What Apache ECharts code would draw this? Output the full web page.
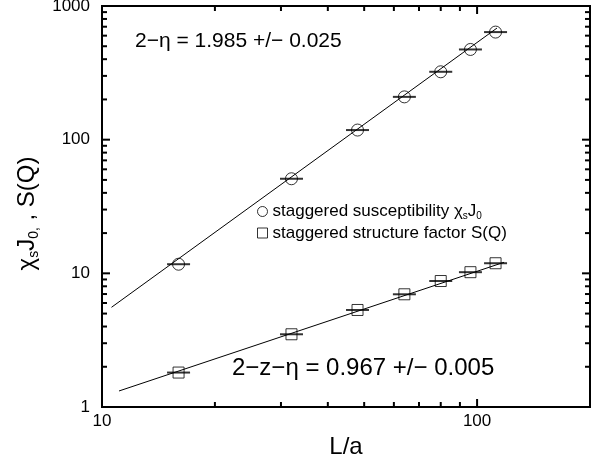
<!DOCTYPE html>
<html>
<head>
<meta charset="utf-8">
<script src="https://cdn.jsdelivr.net/npm/echarts@6/dist/echarts.min.js"></script>
<style>html,body{margin:0;padding:0;background:#fff;}#c{width:595px;height:461px;}</style>
</head>
<body>
<div id="c"></div>
<script>
// ---- data ----
const L = [16, 32, 48, 64, 80, 96, 112];
const chiValues = [11.7, 51.0, 118, 209, 322, 473, 638];
const sqValues = [1.81, 3.50, 5.32, 6.97, 8.76, 10.2, 11.9];
const chiFitL = [10.6, 113];
const chiFitV = [5.57, 684];
const sqFitL = [11.1, 118];
const sqFitV = [1.318, 12.1];
const xTickValues = [10, 100];
const xTickLabels = ['10', '100'];
const yTickValues = [1, 10, 100, 1000];
const yTickLabels = ['1', '10', '100', '1000'];
const xMinorTicks = [20, 30, 40, 50, 60, 70, 80, 90];
const yMinorTicks = [2, 3, 4, 5, 6, 7, 8, 9, 20, 30, 40, 50, 60, 70, 80, 90, 200, 300, 400, 500, 600, 700, 800, 900];
const annot1 = '2\u2212\u03b7 = 1.985 +/\u2212 0.025';
const annot2 = '2\u2212z\u2212\u03b7 = 0.967 +/\u2212 0.005';

const FONT = '"Liberation Sans", Arial, Helvetica, sans-serif';
const X_MIN = 10, X_MAX = 200, Y_MIN = 1, Y_MAX = 1000;
const MAJOR_LEN = 8, MINOR_LEN = 5, TICK_W = 2;

function fmt(values, labels) {
  return function (v) {
    for (let i = 0; i < values.length; i++) {
      if (Math.abs(v - values[i]) / values[i] < 1e-6) return labels[i];
    }
    return '';
  };
}
function zip(a, b) { return a.map((v, i) => [v, b[i]]); }

const chart = echarts.init(document.getElementById('c'));
const textGraphics = [
  { type: 'text', left: 135, top: 31, style: { text: annot1, fontSize: 21, fontFamily: FONT, fill: '#000' } },
  { type: 'text', left: 232, top: 356, style: { text: annot2, fontSize: 24, fontFamily: FONT, fill: '#000' } }
];
const option = {
  animation: false,
  backgroundColor: '#fff',
  textStyle: { fontFamily: FONT },
  grid: { left: 102, right: 5, top: 6, bottom: 54, show: true, borderColor: '#000', borderWidth: 2, outerBoundsMode: 'none' },
  xAxis: {
    type: 'log', min: X_MIN, max: X_MAX,
    name: 'L/a', nameLocation: 'middle', nameGap: 24,
    nameTextStyle: { fontSize: 24, color: '#000', fontFamily: FONT },
    axisLine: { show: true, lineStyle: { color: '#000', width: 2 } },
    axisTick: { show: false }, minorTick: { show: false },
    splitLine: { show: false },
    axisLabel: { fontSize: 17, color: '#000', margin: 6, fontFamily: FONT, formatter: fmt(xTickValues, xTickLabels), showMaxLabel: false }
  },
  yAxis: {
    type: 'log', min: Y_MIN, max: Y_MAX,
    name: '{m|\u03c7}{sub|s}{m|J}{sub|0,}{m| , S(Q)}', nameLocation: 'middle', nameGap: 60, nameRotate: 90,
    nameTextStyle: { color: '#000', fontFamily: FONT, fontSize: 24, padding: [0, 14, 0, 0],
      rich: {
        m: { fontSize: 24, lineHeight: 28, fontFamily: FONT, color: '#000' },
        sub: { fontSize: 14, lineHeight: 14, verticalAlign: 'bottom', fontFamily: FONT, color: '#000' }
      } },
    axisLine: { show: true, lineStyle: { color: '#000', width: 2 } },
    axisTick: { show: false }, minorTick: { show: false },
    splitLine: { show: false },
    axisLabel: { fontSize: 17, color: '#000', margin: 12, fontFamily: FONT, formatter: fmt(yTickValues, yTickLabels) }
  },
  legend: {
    show: true, orient: 'vertical', left: 252, top: 198, itemGap: 3.5, padding: 5,
    itemWidth: 10, itemHeight: 10, selectedMode: false,
    data: [
      { name: 'chi', icon: 'circle', itemStyle: { color: '#fff', borderColor: '#000', borderWidth: 1 } },
      { name: 'sq', icon: 'rect', itemStyle: { color: '#fff', borderColor: '#000', borderWidth: 1 } }
    ],
    formatter: function (name) {
      if (name === 'chi') return '{t|staggered susceptibility \u03c7}{sub|s}{t|J}{sub|0}';
      return '{t|staggered structure factor S(Q)}';
    },
    textStyle: { color: '#000', fontFamily: FONT, fontSize: 17,
      rich: {
        t: { fontSize: 17, lineHeight: 19, fontFamily: FONT, color: '#000' },
        sub: { fontSize: 10, lineHeight: 10, verticalAlign: 'bottom', fontFamily: FONT, color: '#000' }
      } }
  },
  graphic: textGraphics,
  series: [
    { type: 'line', name: 'chiFit', data: zip(chiFitL, chiFitV), symbol: 'none', lineStyle: { color: '#000', width: 1 }, z: 2 },
    { type: 'line', name: 'sqFit', data: zip(sqFitL, sqFitV), symbol: 'none', lineStyle: { color: '#000', width: 1 }, z: 2 },
    { type: 'scatter', name: 'chi', data: zip(L, chiValues), symbol: 'circle', symbolSize: 12,
      itemStyle: { color: 'rgba(0,0,0,0)', borderColor: '#000', borderWidth: 1 }, z: 3 },
    { type: 'scatter', name: 'sq', data: zip(L, sqValues), symbol: 'rect', symbolSize: 11,
      itemStyle: { color: 'rgba(0,0,0,0)', borderColor: '#000', borderWidth: 1 }, z: 3 },
    { type: 'scatter', name: 'chiBar', data: zip(L, chiValues), symbol: 'rect', symbolSize: [23, 2],
      itemStyle: { color: '#000' }, z: 4 },
    { type: 'scatter', name: 'sqBar', data: zip(L, sqValues), symbol: 'rect', symbolSize: [23, 2],
      itemStyle: { color: '#000' }, z: 4 }
  ]
};
chart.setOption(option);

// tick marks on all four sides, placed through the axes' own log scales
(function () {
  const toPx = v => chart.convertToPixel({ gridIndex: 0 }, v);
  const pLB = toPx([X_MIN, Y_MIN]), pRT = toPx([X_MAX, Y_MAX]);
  const pxL = pLB[0], pxB = pLB[1], pxR = pRT[0], pxT = pRT[1];
  const tickEls = [];
  function seg(x1, y1, x2, y2) {
    tickEls.push({ type: 'line', z: 50, silent: true, shape: { x1: x1, y1: y1, x2: x2, y2: y2 }, style: { stroke: '#000', lineWidth: TICK_W } });
  }
  function xTicks(values, len) {
    values.forEach(v => { const x = toPx([v, Y_MIN])[0]; seg(x, pxB, x, pxB - len); seg(x, pxT, x, pxT + len); });
  }
  function yTicks(values, len) {
    values.forEach(v => { const y = toPx([X_MIN, v])[1]; seg(pxL, y, pxL + len, y); seg(pxR, y, pxR - len, y); });
  }
  xTicks(xTickValues, MAJOR_LEN);
  xTicks(xMinorTicks, MINOR_LEN);
  yTicks(yTickValues, MAJOR_LEN);
  yTicks(yMinorTicks, MINOR_LEN);
  chart.setOption({ graphic: textGraphics.concat(tickEls) });
})();
</script>
</body>
</html>
